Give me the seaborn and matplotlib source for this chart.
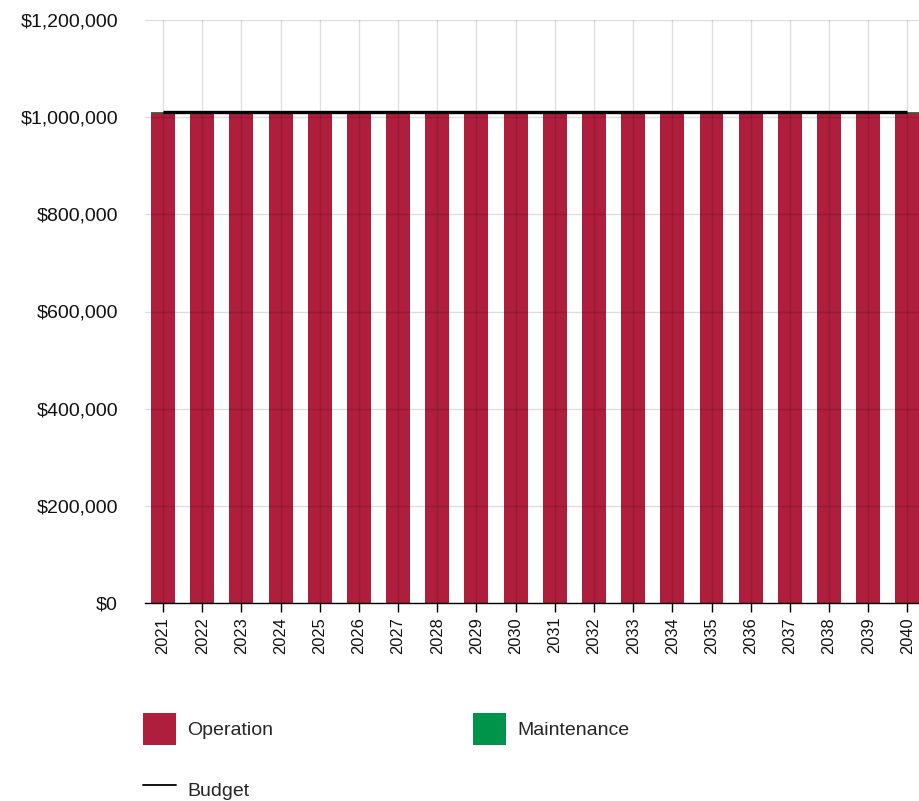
import matplotlib
matplotlib.use("Agg")
import matplotlib.pyplot as plt
import matplotlib.patches as mpatches
import matplotlib.lines as mlines
from matplotlib.ticker import FuncFormatter
import numpy as np
import pandas as pd
import seaborn as sns

years = [str(y) for y in range(2021, 2041)]
operation = [1008000] * 20
maintenance = [3000] * 20
budget = [1011000] * 20

sns.set_theme(style="white")
plt.rcParams["font.family"] = ["Liberation Sans", "DejaVu Sans"]

df = pd.DataFrame({"year": years, "operation": operation,
                   "maintenance": maintenance, "budget": budget})
df["total"] = df["operation"] + df["maintenance"]

red = "#AF1E3C"
green = "#00934A"

fig = plt.figure(figsize=(9.2, 8.01), dpi=100)
W, H = 920, 801
left_px, right_px, top_px, bot_px = 145, 927, 20, 603
ax = fig.add_axes([left_px / W, (H - bot_px) / H,
                   (right_px - left_px) / W, (bot_px - top_px) / H])

# stacked bars: total (maintenance on top) then operation over it
sns.barplot(data=df, x="year", y="total", color=green, width=0.61,
            saturation=1, ax=ax, zorder=2, linewidth=0)
sns.barplot(data=df, x="year", y="operation", color=red, width=0.61,
            saturation=1, ax=ax, zorder=2, linewidth=0)
ax.plot(np.arange(len(years)), df["budget"], color="black", lw=2.4,
        zorder=4, solid_capstyle="butt")

ax.set_xlim(-0.46, 19.5)
ax.set_ylim(0, 1200000)
ax.set_yticks(np.arange(0, 1200001, 200000))
ax.yaxis.set_major_formatter(FuncFormatter(lambda v, p: f"${v:,.0f}"))
ax.set_xlabel("")
ax.set_ylabel("")

for s in ["top", "right", "left"]:
    ax.spines[s].set_visible(False)
ax.spines["bottom"].set_color("black")
ax.spines["bottom"].set_linewidth(1.0)
ax.spines["bottom"].set_zorder(5)

ax.grid(True, axis="both", color="black", alpha=0.13, lw=1.0, zorder=3)
ax.set_axisbelow(False)

ax.tick_params(axis="x", which="both", bottom=True, length=6.5, width=1,
               color="black", labelsize=11.8, labelcolor="#111111",
               rotation=90, pad=3.5)
ax.tick_params(axis="y", left=False, length=0, labelsize=14,
               labelcolor="#111111", pad=19.5)

handles = [
    mpatches.Patch(facecolor=red, edgecolor="none", label="Operation"),
    mlines.Line2D([], [], color="black", lw=1.3, label="Budget"),
    mpatches.Patch(facecolor=green, edgecolor="none", label="Maintenance"),
]
fig.legend(handles=handles, ncol=2, loc="upper left",
           bbox_to_anchor=(143 / W, 1 - 713 / H), frameon=False,
           fontsize=14, handlelength=1.7, handleheight=2.16,
           handletextpad=0.57, labelspacing=1.5, columnspacing=10.3,
           borderaxespad=0, borderpad=0)

fig.savefig("out.png", dpi=100)
